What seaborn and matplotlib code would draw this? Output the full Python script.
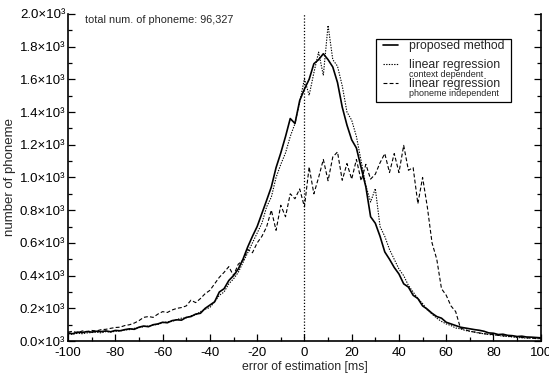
import numpy as np
import pandas as pd
import matplotlib
matplotlib.use("Agg")
import matplotlib.pyplot as plt
import seaborn as sns
from matplotlib.ticker import MultipleLocator, FuncFormatter
from matplotlib.lines import Line2D
from matplotlib.patches import Rectangle

# ---- data ----
error_ms = list(range(-100, 101, 2))

proposed = [50, 45, 55, 52, 58, 55, 60, 58, 62, 57,
            65, 63, 70, 75, 72, 85, 92, 88, 100, 105,
            115, 112, 125, 130, 128, 145, 150, 165, 170, 200,
            220, 240, 300, 320, 370, 400, 440, 500, 575, 640,
            700, 780, 860, 942, 1060, 1150, 1250, 1360, 1330, 1470,
            1540, 1600, 1695, 1720, 1756, 1720, 1675, 1580, 1430, 1320,
            1230, 1180, 1060, 942, 760, 720, 640, 545, 500, 450,
            410, 350, 330, 280, 260, 215, 195, 170, 150, 140,
            115, 105, 95, 85, 80, 75, 70, 66, 60, 50,
            48, 40, 42, 35, 33, 28, 30, 25, 24, 22, 20]

context_dep = [40, 42, 48, 45, 50, 52, 55, 50, 58, 55,
               60, 62, 68, 70, 78, 82, 88, 92, 98, 102,
               112, 118, 120, 132, 140, 142, 155, 160, 180, 195,
               205, 240, 280, 300, 350, 380, 420, 480, 540, 600,
               660, 720, 820, 880, 1000, 1080, 1150, 1250, 1329, 1460,
               1603, 1502, 1640, 1766, 1624, 1929, 1720, 1680, 1560, 1400,
               1350, 1250, 1100, 950, 850, 932, 700, 640, 560, 500,
               440, 400, 340, 300, 260, 230, 190, 165, 140, 120,
               105, 95, 80, 75, 65, 60, 55, 48, 45, 40,
               38, 35, 30, 28, 25, 22, 20, 18, 20, 15, 15]

phoneme_indep = [55, 60, 50, 62, 58, 65, 62, 70, 72, 78,
                 83, 85, 95, 100, 110, 125, 145, 150, 145, 165,
                 180, 175, 190, 200, 205, 215, 250, 235, 260, 290,
                 310, 350, 390, 420, 455, 400, 470, 494, 560, 540,
                 600, 640, 698, 800, 677, 830, 760, 900, 870, 930,
                 820, 1064, 900, 1000, 1110, 980, 1125, 1156, 983, 1085,
                 990, 1110, 980, 1080, 990, 1020, 1090, 1146, 1030, 1146,
                 1030, 1196, 1044, 1060, 840, 1000, 820, 600, 500, 320,
                 280, 215, 180, 80, 70, 60, 55, 50, 45, 42,
                 40, 35, 33, 30, 28, 25, 22, 20, 18, 16, 15]

series_labels = ["proposed method", "linear regression", "linear regression"]
series_sublabels = ["", "context dependent", "phoneme independent"]
annotation = "total num. of phoneme: 96,327"
zero_line = 0

# ---- styling ----
sns.set_style("ticks")
plt.rcParams["font.family"] = ["Liberation Sans", "DejaVu Sans"]

W, H = 549, 374
fig = plt.figure(figsize=(W / 100, H / 100), dpi=100)
ax = fig.add_axes([0.124, 0.088, 0.861, 0.875])

df = pd.DataFrame({"x": error_ms, "proposed": proposed,
                   "context": context_dep, "indep": phoneme_indep})

dash_style = (0, (3.5, 2))
dot_style = (0, (1.2, 1.2))
sns.lineplot(data=df, x="x", y="indep", ax=ax, color="black", lw=0.8,
             linestyle=dash_style)
sns.lineplot(data=df, x="x", y="context", ax=ax, color="black", lw=0.8,
             linestyle=dot_style)
sns.lineplot(data=df, x="x", y="proposed", ax=ax, color="black", lw=1.2)

ax.axvline(zero_line, color="black", lw=0.9, linestyle=(0, (1, 1.5)))

ax.set_xlim(-100, 100)
ax.set_ylim(0, 2000)
ax.xaxis.set_major_locator(MultipleLocator(20))
ax.xaxis.set_minor_locator(MultipleLocator(10))
ax.yaxis.set_major_locator(MultipleLocator(200))
ax.yaxis.set_minor_locator(MultipleLocator(100))
ax.yaxis.set_major_formatter(FuncFormatter(lambda v, p: f"{v/1000:.1f}\u00d710\u00b3"))
ax.xaxis.set_major_formatter(FuncFormatter(lambda v, p: f"{int(v)}"))

ax.tick_params(which="both", direction="in", top=False, right=True,
               labelsize=9.5, colors="black")
ax.tick_params(axis="x", which="both", pad=4.5)
ax.tick_params(axis="y", which="both", pad=2)
ax.tick_params(which="major", length=5, width=0.9)
ax.tick_params(which="minor", length=3, width=0.9)
for s in ax.spines.values():
    s.set_linewidth(1.2)
    s.set_color("black")
ax.spines["top"].set_visible(False)

ax.set_xlabel("error of estimation [ms]", fontsize=8.8, labelpad=1)
ax.set_ylabel("number of phoneme", fontsize=9.5, labelpad=3)

ax.text(0.036, 0.982, annotation, transform=ax.transAxes, fontsize=7.8,
        va="center", ha="left")

# legend: frame drawn as a box, entries through ax.legend
ax.add_patch(Rectangle((0.6516, 0.731), 0.285, 0.191, transform=ax.transAxes,
                       fill=True, facecolor="white", edgecolor="black",
                       lw=0.9, zorder=4))
handles = [Line2D([], [], color="black", lw=1.2),
           Line2D([], [], color="black", lw=0.8, linestyle=dot_style),
           Line2D([], [], color="black", lw=0.8, linestyle=dash_style)]
leg = ax.legend(handles, series_labels, loc="upper left",
                bbox_to_anchor=(0.6655, 0.9187),
                fontsize=8.8, frameon=False,
                handlelength=1.28, handletextpad=0.9, labelspacing=0.55,
                borderpad=0.0, borderaxespad=0)
leg.set_zorder(5)

fig.canvas.draw()
renderer = fig.canvas.get_renderer()
texts = leg.get_texts()
for i in (1, 2):
    bb = texts[i].get_window_extent(renderer)
    fig.text(bb.x0 / W, (bb.y0 - 6.0) / H, series_sublabels[i],
             fontsize=6.5, va="baseline", ha="left", zorder=6)

fig.savefig("out.png", dpi=100)
